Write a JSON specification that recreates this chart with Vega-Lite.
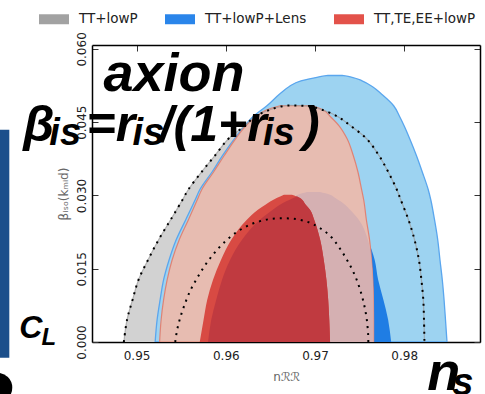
{
  "$schema": "https://vega.github.io/schema/vega-lite/v6.json",
  "width": 388,
  "height": 297,
  "autosize": {"type": "none"},
  "padding": {"left": 92, "top": 45, "right": 5, "bottom": 52},
  "background": "white",
  "config": {
    "view": {"stroke": null},
    "axis": {"domainColor": "#000", "domainWidth": 1.5, "tickColor": "#333", "tickSize": -6, "tickWidth": 1, "labelFont": "DejaVu Sans", "labelFontSize": 12, "labelColor": "#222", "titleFont": "DejaVu Sans", "titleFontSize": 12, "titleFontWeight": "normal", "titleColor": "#666", "grid": false, "zindex": 1}
  },
  "datasets": {
    "gray2": [
      {"beta": 0, "lo": 0.94857, "hi": 0.98227},
      {"beta": 0.00456, "lo": 0.94893, "hi": 0.98222},
      {"beta": 0.00866, "lo": 0.94955, "hi": 0.98214},
      {"beta": 0.01275, "lo": 0.95022, "hi": 0.98193},
      {"beta": 0.01684, "lo": 0.95129, "hi": 0.98165},
      {"beta": 0.02093, "lo": 0.95247, "hi": 0.98116},
      {"beta": 0.02503, "lo": 0.95382, "hi": 0.98048},
      {"beta": 0.02912, "lo": 0.95515, "hi": 0.97961},
      {"beta": 0.03117, "lo": 0.95579, "hi": 0.97918},
      {"beta": 0.03485, "lo": 0.9573, "hi": 0.9782},
      {"beta": 0.03812, "lo": 0.95876, "hi": 0.97719},
      {"beta": 0.0416, "lo": 0.9603, "hi": 0.97579},
      {"beta": 0.04426, "lo": 0.96213, "hi": 0.97399},
      {"beta": 0.04611, "lo": 0.96326, "hi": 0.97258},
      {"beta": 0.04754, "lo": 0.96494, "hi": 0.97079},
      {"beta": 0.04836, "lo": 0.96663, "hi": 0.96944}
    ],
    "blue2": [
      {"beta": 0, "lo": 0.95208, "hi": 0.9848},
      {"beta": 0.00456, "lo": 0.9523, "hi": 0.98463},
      {"beta": 0.00866, "lo": 0.95264, "hi": 0.98447},
      {"beta": 0.01275, "lo": 0.95303, "hi": 0.98427},
      {"beta": 0.01684, "lo": 0.95365, "hi": 0.98401},
      {"beta": 0.02093, "lo": 0.95444, "hi": 0.98376},
      {"beta": 0.02503, "lo": 0.95551, "hi": 0.9834},
      {"beta": 0.02912, "lo": 0.95657, "hi": 0.98298},
      {"beta": 0.03117, "lo": 0.95708, "hi": 0.9827},
      {"beta": 0.03485, "lo": 0.95848, "hi": 0.98202},
      {"beta": 0.03812, "lo": 0.95961, "hi": 0.98138},
      {"beta": 0.0416, "lo": 0.96096, "hi": 0.98062},
      {"beta": 0.04426, "lo": 0.96213, "hi": 0.97999},
      {"beta": 0.04611, "lo": 0.96303, "hi": 0.9795},
      {"beta": 0.04836, "lo": 0.96461, "hi": 0.97882},
      {"beta": 0.05081, "lo": 0.96607, "hi": 0.97742},
      {"beta": 0.05225, "lo": 0.96708, "hi": 0.97646},
      {"beta": 0.05347, "lo": 0.96843, "hi": 0.97528},
      {"beta": 0.05419, "lo": 0.97022, "hi": 0.97416},
      {"beta": 0.05456, "lo": 0.97146, "hi": 0.97303}
    ],
    "blue1": [
      {"beta": 0, "lo": 0.95801, "hi": 0.97854},
      {"beta": 0.00456, "lo": 0.95837, "hi": 0.9782},
      {"beta": 0.00866, "lo": 0.95893, "hi": 0.97767},
      {"beta": 0.01275, "lo": 0.95958, "hi": 0.97708},
      {"beta": 0.01684, "lo": 0.96049, "hi": 0.97669},
      {"beta": 0.02093, "lo": 0.96182, "hi": 0.97593},
      {"beta": 0.02503, "lo": 0.96382, "hi": 0.97491},
      {"beta": 0.02707, "lo": 0.96527, "hi": 0.97393},
      {"beta": 0.0281, "lo": 0.96607, "hi": 0.97337},
      {"beta": 0.02947, "lo": 0.96756, "hi": 0.97228},
      {"beta": 0.03014, "lo": 0.96809, "hi": 0.97169},
      {"beta": 0.0307, "lo": 0.9691, "hi": 0.97056}
    ],
    "red2": [
      {"beta": 0, "lo": 0.95258, "hi": 0.97657},
      {"beta": 0.00456, "lo": 0.95275, "hi": 0.97657},
      {"beta": 0.00866, "lo": 0.95303, "hi": 0.97655},
      {"beta": 0.01275, "lo": 0.95343, "hi": 0.97648},
      {"beta": 0.01684, "lo": 0.95399, "hi": 0.97633},
      {"beta": 0.02093, "lo": 0.95478, "hi": 0.97612},
      {"beta": 0.02503, "lo": 0.95581, "hi": 0.97576},
      {"beta": 0.02912, "lo": 0.9568, "hi": 0.97546},
      {"beta": 0.03117, "lo": 0.9573, "hi": 0.97523},
      {"beta": 0.03485, "lo": 0.95865, "hi": 0.97481},
      {"beta": 0.03812, "lo": 0.95981, "hi": 0.9743},
      {"beta": 0.0416, "lo": 0.9611, "hi": 0.9736},
      {"beta": 0.04426, "lo": 0.96225, "hi": 0.9727},
      {"beta": 0.04611, "lo": 0.96337, "hi": 0.97174},
      {"beta": 0.04754, "lo": 0.96461, "hi": 0.97088},
      {"beta": 0.04836, "lo": 0.96607, "hi": 0.96966}
    ],
    "mauve": [
      {"beta": 0, "lo": 0.95801, "hi": 0.97657},
      {"beta": 0.00456, "lo": 0.95837, "hi": 0.97657},
      {"beta": 0.00866, "lo": 0.95893, "hi": 0.97655},
      {"beta": 0.01275, "lo": 0.95958, "hi": 0.97648},
      {"beta": 0.01684, "lo": 0.96049, "hi": 0.97633},
      {"beta": 0.02093, "lo": 0.96182, "hi": 0.97593},
      {"beta": 0.02503, "lo": 0.96382, "hi": 0.97491},
      {"beta": 0.02707, "lo": 0.96527, "hi": 0.97393},
      {"beta": 0.0281, "lo": 0.96607, "hi": 0.97337},
      {"beta": 0.02947, "lo": 0.96756, "hi": 0.97228},
      {"beta": 0.03014, "lo": 0.96809, "hi": 0.97169},
      {"beta": 0.0307, "lo": 0.9691, "hi": 0.97056}
    ],
    "red1": [
      {"beta": 0, "lo": 0.95708, "hi": 0.97169},
      {"beta": 0.00456, "lo": 0.95751, "hi": 0.9716},
      {"beta": 0.00866, "lo": 0.95792, "hi": 0.97148},
      {"beta": 0.01275, "lo": 0.95857, "hi": 0.97128},
      {"beta": 0.01684, "lo": 0.95947, "hi": 0.97098},
      {"beta": 0.02093, "lo": 0.96062, "hi": 0.97058},
      {"beta": 0.02503, "lo": 0.96236, "hi": 0.96991},
      {"beta": 0.02707, "lo": 0.9636, "hi": 0.96944},
      {"beta": 0.0281, "lo": 0.96444, "hi": 0.96896},
      {"beta": 0.02947, "lo": 0.9657, "hi": 0.96832},
      {"beta": 0.03014, "lo": 0.96652, "hi": 0.96742}
    ],
    "darkred": [
      {"beta": 0, "lo": 0.95801, "hi": 0.97169},
      {"beta": 0.00456, "lo": 0.95837, "hi": 0.9716},
      {"beta": 0.00866, "lo": 0.95893, "hi": 0.97148},
      {"beta": 0.01275, "lo": 0.95958, "hi": 0.97128},
      {"beta": 0.01684, "lo": 0.96049, "hi": 0.97098},
      {"beta": 0.02093, "lo": 0.96182, "hi": 0.97058},
      {"beta": 0.02503, "lo": 0.96382, "hi": 0.96991},
      {"beta": 0.02707, "lo": 0.96527, "hi": 0.96944},
      {"beta": 0.0281, "lo": 0.96607, "hi": 0.96896},
      {"beta": 0.02947, "lo": 0.96756, "hi": 0.96832},
      {"beta": 0.02984, "lo": 0.96798, "hi": 0.96798}
    ],
    "outer": [
      {"i": 0, "ns": 0.94857, "beta": 0},
      {"i": 1, "ns": 0.94893, "beta": 0.00456},
      {"i": 2, "ns": 0.94955, "beta": 0.00866},
      {"i": 3, "ns": 0.95022, "beta": 0.01275},
      {"i": 4, "ns": 0.95129, "beta": 0.01684},
      {"i": 5, "ns": 0.95247, "beta": 0.02093},
      {"i": 6, "ns": 0.95382, "beta": 0.02503},
      {"i": 7, "ns": 0.95515, "beta": 0.02912},
      {"i": 8, "ns": 0.95579, "beta": 0.03117},
      {"i": 9, "ns": 0.9573, "beta": 0.03485},
      {"i": 10, "ns": 0.95876, "beta": 0.03812},
      {"i": 11, "ns": 0.9603, "beta": 0.0416},
      {"i": 12, "ns": 0.96213, "beta": 0.04426},
      {"i": 13, "ns": 0.96326, "beta": 0.04611},
      {"i": 14, "ns": 0.96494, "beta": 0.04754},
      {"i": 15, "ns": 0.96663, "beta": 0.04836},
      {"i": 16, "ns": 0.96798, "beta": 0.0484},
      {"i": 17, "ns": 0.96944, "beta": 0.04825},
      {"i": 18, "ns": 0.97079, "beta": 0.04754},
      {"i": 19, "ns": 0.97258, "beta": 0.04611},
      {"i": 20, "ns": 0.97399, "beta": 0.04426},
      {"i": 21, "ns": 0.97579, "beta": 0.0416},
      {"i": 22, "ns": 0.97719, "beta": 0.03812},
      {"i": 23, "ns": 0.9782, "beta": 0.03485},
      {"i": 24, "ns": 0.97918, "beta": 0.03117},
      {"i": 25, "ns": 0.97961, "beta": 0.02912},
      {"i": 26, "ns": 0.98048, "beta": 0.02503},
      {"i": 27, "ns": 0.98116, "beta": 0.02093},
      {"i": 28, "ns": 0.98165, "beta": 0.01684},
      {"i": 29, "ns": 0.98193, "beta": 0.01275},
      {"i": 30, "ns": 0.98214, "beta": 0.00866},
      {"i": 31, "ns": 0.98222, "beta": 0.00456},
      {"i": 32, "ns": 0.98227, "beta": 0}
    ],
    "inner": [
      {"i": 0, "ns": 0.95433, "beta": 0},
      {"i": 1, "ns": 0.95455, "beta": 0.00252},
      {"i": 2, "ns": 0.95489, "beta": 0.00497},
      {"i": 3, "ns": 0.95534, "beta": 0.00743},
      {"i": 4, "ns": 0.95596, "beta": 0.01029},
      {"i": 5, "ns": 0.95674, "beta": 0.01295},
      {"i": 6, "ns": 0.95764, "beta": 0.01561},
      {"i": 7, "ns": 0.95865, "beta": 0.01807},
      {"i": 8, "ns": 0.95978, "beta": 0.02032},
      {"i": 9, "ns": 0.96112, "beta": 0.02237},
      {"i": 10, "ns": 0.9627, "beta": 0.024},
      {"i": 11, "ns": 0.96449, "beta": 0.02503},
      {"i": 12, "ns": 0.96629, "beta": 0.02533},
      {"i": 13, "ns": 0.96798, "beta": 0.02513},
      {"i": 14, "ns": 0.96944, "beta": 0.02441},
      {"i": 15, "ns": 0.97067, "beta": 0.02319},
      {"i": 16, "ns": 0.9718, "beta": 0.02155},
      {"i": 17, "ns": 0.97281, "beta": 0.01909},
      {"i": 18, "ns": 0.97371, "beta": 0.01643},
      {"i": 19, "ns": 0.97449, "beta": 0.01357},
      {"i": 20, "ns": 0.97506, "beta": 0.0107},
      {"i": 21, "ns": 0.97551, "beta": 0.00763},
      {"i": 22, "ns": 0.97581, "beta": 0.00456},
      {"i": 23, "ns": 0.97596, "beta": 0.00149},
      {"i": 24, "ns": 0.97598, "beta": 0}
    ],
    "legend": [
      {"set": "TT+lowP", "ns": 0.9, "beta": -1},
      {"set": "TT+lowP+Lens", "ns": 0.9, "beta": -1},
      {"set": "TT,TE,EE+lowP", "ns": 0.9, "beta": -1}
    ],
    "axion": [{"t": "axion", "ns": 0.94629, "beta": 0.05143}],
    "formula": [
      {"t": "β", "ns": 0.9373, "beta": 0.04119},
      {"t": "=r", "ns": 0.94438, "beta": 0.04119},
      {"t": "/(1+r", "ns": 0.95258, "beta": 0.04119},
      {"t": ")", "ns": 0.96865, "beta": 0.04119}
    ],
    "formulaSub": [
      {"t": "is", "ns": 0.94022, "beta": 0.04038},
      {"t": "is", "ns": 0.94955, "beta": 0.04038},
      {"t": "is", "ns": 0.96416, "beta": 0.04038}
    ],
    "cl": [{"t": "C", "ns": 0.93685, "beta": 0.00088}],
    "clSub": [{"t": "L", "ns": 0.93933, "beta": -0.00055}],
    "nsMain": [{"t": "n", "ns": 0.98258, "beta": -0.00976}],
    "nsSub": [{"t": "s", "ns": 0.98539, "beta": -0.01079}],
    "bar": [{"x1": 0.93461, "x2": 0.93573, "y1": 0.04345, "y2": -0.00321}],
    "dot": [{"ns": 0.93438, "beta": -0.00935}]
  },
  "layer": [
    {
      "data": {"name": "gray2"},
      "mark": {"type": "area", "orient": "horizontal", "interpolate": "monotone", "color": "#d2d2d2", "clip": true},
      "encoding": {
        "y": {"field": "beta", "type": "quantitative", "scale": {"domain": [0, 0.0608], "nice": false, "zero": false},
          "axis": {"orient": "left", "values": [0, 0.015, 0.03, 0.045, 0.06], "format": ".3f", "labelAngle": 270, "labelAlign": "center", "labelBaseline": "bottom", "labelPadding": 10, "title": "βᵢₛₒ(kₘᵢd)", "titlePadding": 5}},
        "x": {"field": "lo", "type": "quantitative", "scale": {"domain": [0.945, 0.9885], "nice": false, "zero": false},
          "axis": {"orient": "bottom", "values": [0.95, 0.96, 0.97, 0.98], "format": ".2f", "labelPadding": 14, "title": "nℛℛ", "titlePadding": 10}},
        "x2": {"field": "hi"}
      }
    },
    {
      "data": {"name": "blue2"},
      "mark": {"type": "area", "orient": "horizontal", "interpolate": "monotone", "color": "#9dd3f1", "stroke": "#5aa6ee", "strokeWidth": 1.3, "clip": true},
      "encoding": {
        "y": {"field": "beta", "type": "quantitative", "axis": null},
        "x": {"field": "lo", "type": "quantitative", "axis": null},
        "x2": {"field": "hi"}
      }
    },
    {
      "data": {"name": "blue1"},
      "mark": {"type": "area", "orient": "horizontal", "interpolate": "monotone", "color": "#1f7de4", "clip": true},
      "encoding": {
        "y": {"field": "beta", "type": "quantitative", "axis": null},
        "x": {"field": "lo", "type": "quantitative", "axis": null},
        "x2": {"field": "hi"}
      }
    },
    {
      "data": {"name": "red2"},
      "mark": {"type": "area", "orient": "horizontal", "interpolate": "monotone", "color": "#e7bcb1", "stroke": "#df8375", "strokeWidth": 1.2, "clip": true},
      "encoding": {
        "y": {"field": "beta", "type": "quantitative", "axis": null},
        "x": {"field": "lo", "type": "quantitative", "axis": null},
        "x2": {"field": "hi"}
      }
    },
    {
      "data": {"name": "mauve"},
      "mark": {"type": "area", "orient": "horizontal", "interpolate": "monotone", "color": "#d5b0b2", "clip": true},
      "encoding": {
        "y": {"field": "beta", "type": "quantitative", "axis": null},
        "x": {"field": "lo", "type": "quantitative", "axis": null},
        "x2": {"field": "hi"}
      }
    },
    {
      "data": {"name": "red1"},
      "mark": {"type": "area", "orient": "horizontal", "interpolate": "monotone", "color": "#d84a43", "clip": true},
      "encoding": {
        "y": {"field": "beta", "type": "quantitative", "axis": null},
        "x": {"field": "lo", "type": "quantitative", "axis": null},
        "x2": {"field": "hi"}
      }
    },
    {
      "data": {"name": "darkred"},
      "mark": {"type": "area", "orient": "horizontal", "interpolate": "monotone", "color": "#c03a40", "clip": true},
      "encoding": {
        "y": {"field": "beta", "type": "quantitative", "axis": null},
        "x": {"field": "lo", "type": "quantitative", "axis": null},
        "x2": {"field": "hi"}
      }
    },
    {
      "data": {"name": "outer"},
      "mark": {"type": "line", "interpolate": "catmull-rom", "color": "#9a9a9a", "strokeWidth": 1.2, "opacity": 0.7, "clip": true},
      "encoding": {
        "x": {"field": "ns", "type": "quantitative", "axis": null},
        "y": {"field": "beta", "type": "quantitative", "axis": null},
        "order": {"field": "i", "type": "quantitative"}
      }
    },
    {
      "data": {"name": "outer"},
      "mark": {"type": "line", "interpolate": "catmull-rom", "color": "#000", "strokeWidth": 2, "strokeDash": [2, 5], "strokeCap": "butt", "clip": true},
      "encoding": {
        "x": {"field": "ns", "type": "quantitative", "axis": null},
        "y": {"field": "beta", "type": "quantitative", "axis": null},
        "order": {"field": "i", "type": "quantitative"}
      }
    },
    {
      "data": {"name": "inner"},
      "mark": {"type": "line", "interpolate": "catmull-rom", "color": "#000", "strokeWidth": 2, "strokeDash": [2, 5], "strokeCap": "butt", "clip": true},
      "encoding": {
        "x": {"field": "ns", "type": "quantitative", "axis": null},
        "y": {"field": "beta", "type": "quantitative", "axis": null},
        "order": {"field": "i", "type": "quantitative"}
      }
    },
    {
      "data": {"name": "legend"},
      "mark": {"type": "square", "clip": true},
      "encoding": {
        "x": {"field": "ns", "type": "quantitative", "axis": {"orient": "top", "values": [0.95, 0.96, 0.97, 0.98], "labels": false, "title": null}},
        "y": {"field": "beta", "type": "quantitative", "axis": {"orient": "right", "values": [0, 0.015, 0.03, 0.045, 0.06], "labels": false, "title": null}},
        "color": {"field": "set", "type": "nominal",
          "scale": {"domain": ["TT+lowP", "TT+lowP+Lens", "TT,TE,EE+lowP"], "range": ["#a2a2a2", "#2a85ea", "#e3524a"]},
          "legend": {"orient": "none", "legendX": -53, "legendY": -41, "direction": "horizontal", "title": null, "symbolType": "M-1,-0.333H1V0.333H-1Z", "symbolSize": 900, "symbolStrokeWidth": 0, "symbolOpacity": 1, "labelFont": "DejaVu Sans", "labelFontSize": 13.5, "labelColor": "#222", "labelOffset": 10, "columnPadding": 27}}
      }
    },
    {
      "data": {"name": "bar"},
      "mark": {"type": "rect", "color": "#1c4f8b", "clip": false},
      "encoding": {
        "x": {"field": "x1", "type": "quantitative", "axis": null},
        "x2": {"field": "x2"},
        "y": {"field": "y1", "type": "quantitative", "axis": null},
        "y2": {"field": "y2"}
      }
    },
    {
      "data": {"name": "dot"},
      "mark": {"type": "circle", "color": "#000", "opacity": 1, "size": 900, "clip": false},
      "encoding": {
        "x": {"field": "ns", "type": "quantitative", "axis": null},
        "y": {"field": "beta", "type": "quantitative", "axis": null}
      }
    },
    {
      "data": {"name": "axion"},
      "mark": {"type": "text", "font": "Liberation Sans", "fontWeight": "bold", "fontStyle": "italic", "fontSize": 54, "align": "left", "baseline": "alphabetic", "color": "#000", "clip": false},
      "encoding": {
        "x": {"field": "ns", "type": "quantitative", "axis": null},
        "y": {"field": "beta", "type": "quantitative", "axis": null},
        "text": {"field": "t"}
      }
    },
    {
      "data": {"name": "formula"},
      "mark": {"type": "text", "font": "Liberation Sans", "fontWeight": "bold", "fontStyle": "italic", "fontSize": 50, "align": "left", "baseline": "alphabetic", "color": "#000", "clip": false},
      "encoding": {
        "x": {"field": "ns", "type": "quantitative", "axis": null},
        "y": {"field": "beta", "type": "quantitative", "axis": null},
        "text": {"field": "t"}
      }
    },
    {
      "data": {"name": "formulaSub"},
      "mark": {"type": "text", "font": "Liberation Sans", "fontWeight": "bold", "fontStyle": "italic", "fontSize": 38, "align": "left", "baseline": "alphabetic", "color": "#000", "clip": false},
      "encoding": {
        "x": {"field": "ns", "type": "quantitative", "axis": null},
        "y": {"field": "beta", "type": "quantitative", "axis": null},
        "text": {"field": "t"}
      }
    },
    {
      "data": {"name": "cl"},
      "mark": {"type": "text", "font": "Liberation Sans", "fontWeight": "bold", "fontStyle": "italic", "fontSize": 32, "align": "left", "baseline": "alphabetic", "color": "#000", "clip": false},
      "encoding": {
        "x": {"field": "ns", "type": "quantitative", "axis": null},
        "y": {"field": "beta", "type": "quantitative", "axis": null},
        "text": {"field": "t"}
      }
    },
    {
      "data": {"name": "clSub"},
      "mark": {"type": "text", "font": "Liberation Sans", "fontWeight": "bold", "fontStyle": "italic", "fontSize": 24, "align": "left", "baseline": "alphabetic", "color": "#000", "clip": false},
      "encoding": {
        "x": {"field": "ns", "type": "quantitative", "axis": null},
        "y": {"field": "beta", "type": "quantitative", "axis": null},
        "text": {"field": "t"}
      }
    },
    {
      "data": {"name": "nsMain"},
      "mark": {"type": "text", "font": "Liberation Sans", "fontWeight": "bold", "fontStyle": "italic", "fontSize": 54, "align": "left", "baseline": "alphabetic", "color": "#000", "clip": false},
      "encoding": {
        "x": {"field": "ns", "type": "quantitative", "axis": null},
        "y": {"field": "beta", "type": "quantitative", "axis": null},
        "text": {"field": "t"}
      }
    },
    {
      "data": {"name": "nsSub"},
      "mark": {"type": "text", "font": "Liberation Sans", "fontWeight": "bold", "fontStyle": "italic", "fontSize": 38, "align": "left", "baseline": "alphabetic", "color": "#000", "clip": false},
      "encoding": {
        "x": {"field": "ns", "type": "quantitative", "axis": null},
        "y": {"field": "beta", "type": "quantitative", "axis": null},
        "text": {"field": "t"}
      }
    }
  ],
  "resolve": {"axis": {"x": "independent", "y": "independent"}}
}
